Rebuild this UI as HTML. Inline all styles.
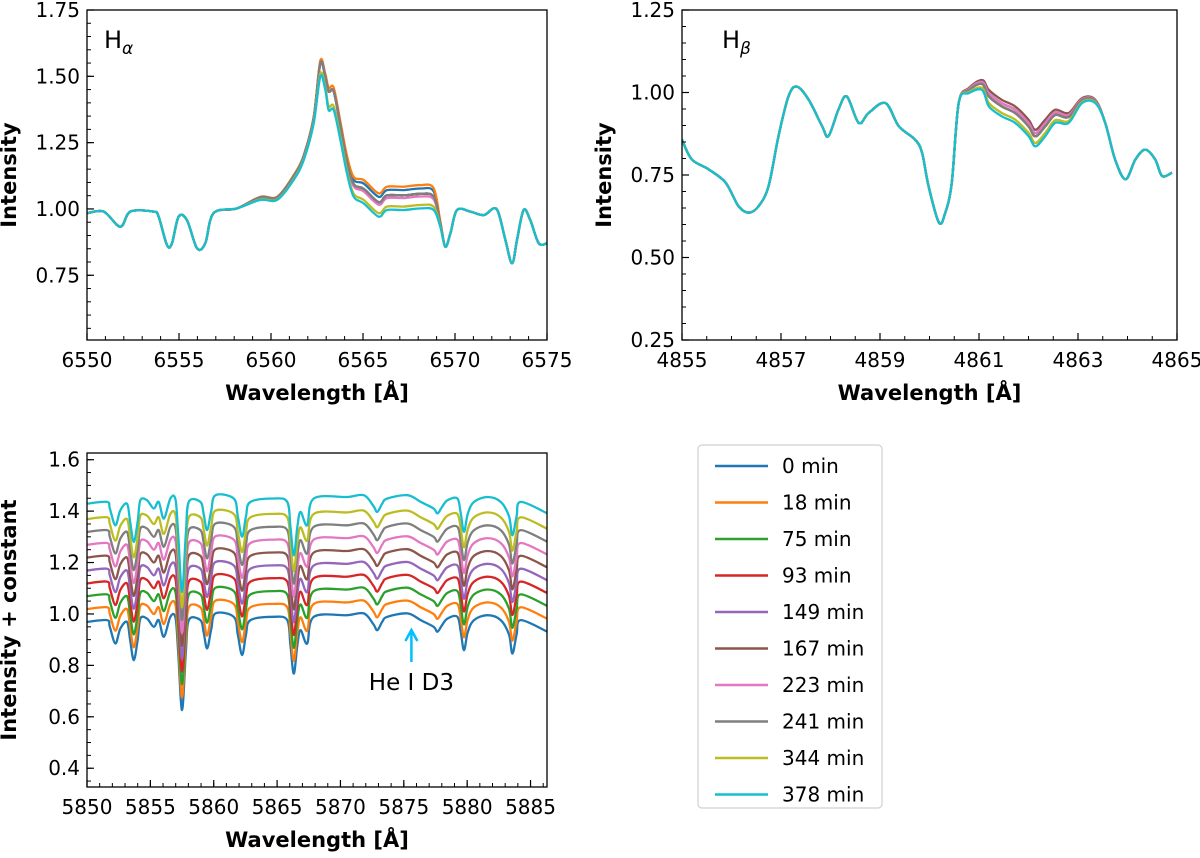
<!DOCTYPE html>
<html><head><meta charset="utf-8"><style>
body{margin:0;background:#fff;}
svg{display:block;font-family:"DejaVu Sans","Liberation Sans",sans-serif;}
</style></head><body>
<svg id="fig" width="1200" height="858" viewBox="0 0 1200 858" xmlns="http://www.w3.org/2000/svg"></svg>
<script>
const seriesLabels=["0 min","18 min","75 min","93 min","149 min","167 min","223 min","241 min","344 min","378 min"];
const colors=["#1f77b4","#ff7f0e","#2ca02c","#d62728","#9467bd","#8c564b","#e377c2","#7f7f7f","#bcbd22","#17becf"];
// H-alpha base profile (378 min)
const haWave=[6550,6550.91,6551.81,6552.36,6553.62,6553.89,6554.35,6554.62,6554.98,6555.43,6555.98,6556.43,6556.88,6558.15,6559.42,6560.33,6561.23,6561.78,6562.32,6562.68,6562.95,6563.13,6563.41,6563.77,6564.13,6564.49,6565.04,6565.85,6566.30,6567.21,6568.12,6568.84,6569.20,6569.47,6569.75,6570.11,6570.83,6571.56,6572.10,6572.37,6572.74,6573.10,6573.37,6573.73,6574.09,6574.55,6575];
const haBase=[0.984,0.990,0.933,0.990,0.990,0.971,0.864,0.871,0.971,0.958,0.852,0.871,0.984,1.002,1.034,1.034,1.109,1.185,1.323,1.499,1.449,1.373,1.373,1.260,1.134,1.047,1.021,0.971,0.996,0.996,1.002,0.996,0.933,0.858,0.908,0.996,0.990,0.977,1.002,0.984,0.883,0.795,0.883,0.996,0.958,0.871,0.871];
const haPeakW=[0,0,0,0,0,0,0,0,0,0,0,0,0,0,0.2,0.2,0.3,0.3,0.4,1,1,1.4,1.4,0.8,0.4,0.3,0.3,0.3,0.3,0.3,0.3,0.2,0,0,0,0,0,0,0,0,0,0,0,0,0,0,0];
const haWingW=[0,0,0,0,0,0,0,0,0,0,0,0,0,0,0,0,0,0,0,0,0,0,0,0.3,0.6,0.8,1,1,1,1,1,1,0.3,0,0,0,0,0,0,0,0,0,0,0,0,0,0];
const haPeakExcess=[0.05,0.06,0.05,0.05,0.05,0.05,0.05,0.05,0.01,0];
const haWingExcess=[0.06,0.07,0.04,0.04,0.04,0.04,0.03,0.04,0.01,0];
// H-beta base profile
const hbWave=[4855,4855.20,4855.54,4855.88,4856.14,4856.35,4856.55,4856.75,4856.95,4857.15,4857.32,4857.56,4857.83,4857.96,4858.16,4858.33,4858.57,4858.77,4859.11,4859.38,4859.71,4859.85,4859.98,4860.19,4860.32,4860.45,4860.59,4860.79,4861.06,4861.20,4861.46,4861.73,4862.00,4862.14,4862.34,4862.54,4862.81,4863.08,4863.35,4863.55,4863.75,4863.96,4864.16,4864.36,4864.56,4864.70,4864.90];
const hbBase=[0.857,0.797,0.767,0.727,0.656,0.636,0.656,0.717,0.868,0.988,1.018,0.978,0.898,0.868,0.948,0.988,0.908,0.938,0.968,0.898,0.857,0.817,0.717,0.606,0.636,0.727,0.968,0.998,1.008,0.958,0.928,0.908,0.868,0.837,0.868,0.908,0.908,0.968,0.968,0.908,0.797,0.737,0.797,0.827,0.797,0.747,0.757];
const hbW=[0,0,0,0,0,0,0,0,0,0,0,0,0,0,0,0,0,0,0,0,0,0,0,0,0,0,0,0.3,0.6,1,1,1,1,1,1,0.8,0.6,0.3,0.2,0,0,0,0,0,0,0,0];
const hbExcess=[0.03,0.03,0.03,0.03,0.04,0.05,0.04,0.03,0.01,0];
// Na/He region, base (0 min)
const naWave=[5850,5851.58,5851.80,5852.24,5852.63,5853.16,5853.40,5853.69,5854.00,5854.21,5854.74,5855.27,5855.66,5856.06,5856.58,5856.98,5857.20,5857.50,5857.80,5858.03,5858.95,5859.20,5859.48,5859.80,5860.14,5861.58,5861.90,5862.24,5862.55,5862.90,5864.74,5865.80,5866.05,5866.32,5866.60,5866.85,5867.38,5867.90,5870.54,5871.85,5872.60,5872.91,5873.30,5873.70,5875.28,5876.33,5877.35,5877.65,5878.00,5878.44,5879.23,5879.50,5879.75,5880.05,5880.54,5881.60,5882.65,5883.30,5883.57,5883.90,5884.23,5886.33];
const naBase=[0.969,0.976,0.950,0.885,0.943,0.969,0.900,0.820,0.900,0.982,0.982,0.950,0.976,0.911,0.989,0.985,0.850,0.626,0.850,0.976,0.976,0.930,0.866,0.940,1.002,0.989,0.920,0.840,0.920,0.976,0.989,0.976,0.880,0.768,0.880,0.937,0.885,0.989,0.995,1.002,0.960,0.937,0.970,0.989,1.002,0.976,0.950,0.931,0.955,0.982,0.989,0.930,0.859,0.930,0.976,0.995,0.976,0.920,0.846,0.920,0.976,0.931];
const naOffset=[0,0.05,0.10,0.15,0.20,0.25,0.30,0.35,0.40,0.46];

const NS="http://www.w3.org/2000/svg";
const fig=document.getElementById('fig');
function el(tag,attrs,parent,text){const e=document.createElementNS(NS,tag);for(const k in attrs)e.setAttribute(k,attrs[k]);if(text!==undefined)e.textContent=text;(parent||fig).appendChild(e);return e;}
function smoothPath(p){
  let d='M'+p[0][0].toFixed(1)+','+p[0][1].toFixed(1);
  for(let i=0;i<p.length-1;i++){
    const p0=p[Math.max(0,i-1)],p1=p[i],p2=p[i+1],p3=p[Math.min(p.length-1,i+2)];
    const c1x=p1[0]+(p2[0]-p0[0])/6,c1y=p1[1]+(p2[1]-p0[1])/6;
    const c2x=p2[0]-(p3[0]-p1[0])/6,c2y=p2[1]-(p3[1]-p1[1])/6;
    d+=' C'+c1x.toFixed(1)+','+c1y.toFixed(1)+' '+c2x.toFixed(1)+','+c2y.toFixed(1)+' '+p2[0].toFixed(1)+','+p2[1].toFixed(1);
  }
  return d;
}

function panel(cfg){
  const g=el('g',{});
  
  
  const X=v=>cfg.x0+(v-cfg.xmin)/(cfg.xmax-cfg.xmin)*(cfg.x1-cfg.x0);
  const Y=v=>cfg.y1-(v-cfg.ymin)/(cfg.ymax-cfg.ymin)*(cfg.y1-cfg.y0);
  const cp='clip-'+cfg.name;
  const cpe=el('clipPath',{id:cp},g);el('rect',{x:cfg.x0,y:cfg.y0,width:cfg.x1-cfg.x0,height:cfg.y1-cfg.y0},cpe);
  const lg=el('g',{'clip-path':'url(#'+cp+')'},g);
  for(let s=0;s<10;s++){
    const ys=cfg.series(s);
    const pts=cfg.wave.map((w,i)=>[X(w),Y(ys[i])]);
    const pl=el('path',{d:smoothPath(pts),fill:'none',stroke:colors[s],'stroke-width':2.3,'stroke-linejoin':'round'},lg);
    
    
  }
  el('rect',{x:cfg.x0,y:cfg.y0,width:cfg.x1-cfg.x0,height:cfg.y1-cfg.y0,fill:'none',stroke:'#000','stroke-width':1.3},g);
  for(const t of cfg.xticks){const x=X(t);el('line',{x1:x,x2:x,y1:cfg.y1,y2:cfg.y1-7,stroke:'#000','stroke-width':1.2},g);
    const tx=el('text',{x:x,y:cfg.y1+27,'font-size':20,'text-anchor':'middle'},g,String(t));
    }
  for(let t=cfg.xmin;t<=cfg.xmax+1e-9;t+=cfg.xminor){const x=X(t);el('line',{x1:x,x2:x,y1:cfg.y1,y2:cfg.y1-4,stroke:'#000','stroke-width':1},g);}
  for(const t of cfg.yticks){const y=Y(t);el('line',{x1:cfg.x0,x2:cfg.x0+7,y1:y,y2:y,stroke:'#000','stroke-width':1.2},g);
    const ty=el('text',{x:cfg.x0-7,y:y+7,'font-size':20,'text-anchor':'end'},g,t.toFixed(cfg.ydec));
    }
  for(let t=cfg.yminorStart;t<=cfg.ymax+1e-9;t+=cfg.yminor){const y=Y(t);if(y<cfg.y0-0.5||y>cfg.y1+0.5)continue;el('line',{x1:cfg.x0,x2:cfg.x0+4,y1:y,y2:y,stroke:'#000','stroke-width':1},g);}
  const xl=el('text',{x:(cfg.x0+cfg.x1)/2,y:cfg.y1+60,'font-size':21,'font-weight':'bold','text-anchor':'middle'},g,'Wavelength [Å]');
  
  const ylx=cfg.x0-71,ylc=(cfg.y0+cfg.y1)/2;
  const yl=el('text',{x:ylx,y:ylc,'font-size':21,'font-weight':'bold','text-anchor':'middle',transform:'rotate(-90 '+ylx+' '+ylc+')'},g,cfg.ylabel);
  
  return {X,Y,g};
}

const pa=panel({name:'h-alpha-panel',x0:87,x1:547,y0:10,y1:340,xmin:6550,xmax:6575,ymin:0.506,ymax:1.75,
  xticks:[6550,6555,6560,6565,6570,6575],xminor:1,yticks:[0.75,1.00,1.25,1.50,1.75],ydec:2,yminor:0.05,yminorStart:0.55,
  ylabel:'Intensity',wave:haWave,series:s=>haBase.map((v,i)=>v+haPeakExcess[s]*haPeakW[i]+haWingExcess[s]*haWingW[i])});
const ta=el('text',{x:104,y:48,'font-size':24},pa.g);
ta.innerHTML='H<tspan font-size="17" font-style="italic" dy="6">α</tspan>';

const pb=panel({name:'h-beta-panel',x0:682,x1:1177,y0:10,y1:340,xmin:4855,xmax:4865,ymin:0.25,ymax:1.25,
  xticks:[4855,4857,4859,4861,4863,4865],xminor:0.5,yticks:[0.25,0.50,0.75,1.00,1.25],ydec:2,yminor:0.05,yminorStart:0.25,
  ylabel:'Intensity',wave:hbWave,series:s=>hbBase.map((v,i)=>v+hbExcess[s]*hbW[i])});
const tb=el('text',{x:722,y:48,'font-size':24},pb.g);
tb.innerHTML='H<tspan font-size="17" font-style="italic" dy="6">β</tspan>';

const pc=panel({name:'he-d3-panel',x0:87,x1:547,y0:453,y1:787,xmin:5850,xmax:5886.3,ymin:0.327,ymax:1.626,
  xticks:[5850,5855,5860,5865,5870,5875,5880,5885],xminor:1,yticks:[0.4,0.6,0.8,1.0,1.2,1.4,1.6],ydec:1,yminor:0.05,yminorStart:0.35,
  ylabel:'Intensity + constant',wave:naWave,series:s=>naBase.map(v=>v+naOffset[s])});
const ax=pc.X(5875.6);
const arr=el('g',{},pc.g);
el('line',{x1:ax,x2:ax,y1:662,y2:633,stroke:'#00bfff','stroke-width':2.5},arr);
el('path',{d:`M${ax-6},${641} L${ax},${630} L${ax+6},${641}`,fill:'none',stroke:'#00bfff','stroke-width':2.5},arr);
const ht=el('text',{x:ax,y:690,'font-size':23,'text-anchor':'middle'},pc.g,'He I D3');


const lgd=el('g',{});
el('rect',{x:698,y:445,width:184,height:363,rx:4,fill:'#fff',stroke:'#d0d0d0','stroke-width':1.2},lgd);
for(let s=0;s<10;s++){const y=466+s*36.5;
  const e=el('g',{},lgd);
  el('line',{x1:715,x2:768,y1:y,y2:y,stroke:colors[s],'stroke-width':2.4},e);
  el('text',{x:782,y:y+7,'font-size':20},e,seriesLabels[s]);}
</script>
</body></html>
